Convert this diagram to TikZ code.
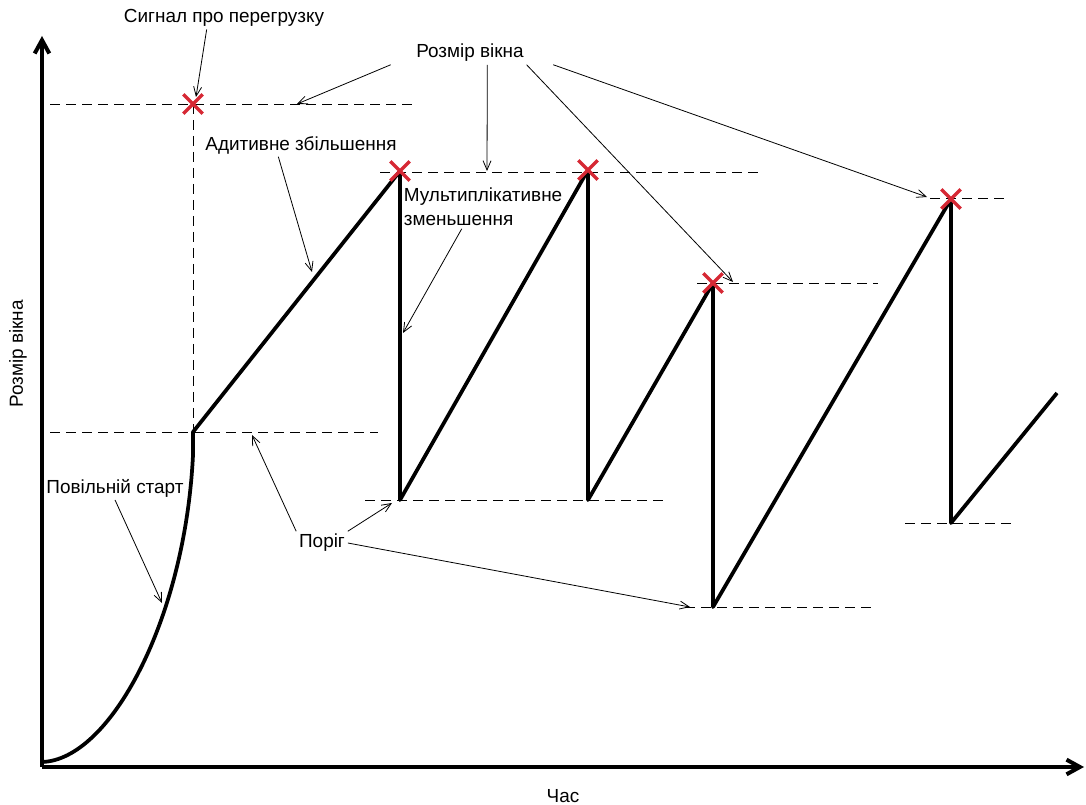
\documentclass[tikz,border=0pt]{standalone}
\usepackage{fontspec}
\setmainfont{Liberation Sans}
\usepackage{xcolor}
\usepackage{tikz}
\usetikzlibrary{arrows.meta,%
  shapes.misc%
}
\definecolor{lossred}{RGB}{214,40,52}

\begin{document}
\begin{tikzpicture}[x=0.75pt,y=-0.75pt,
    lbl/.style={font=\fontsize{14.2}{18}\selectfont, inner sep=2pt},
    pointer/.style={line width=0.6pt,-{Straight Barb[length=7pt,width=6pt]}},
    level/.style={line width=0.6pt, dash pattern=on 7.5pt off 4.5pt},
    cwnd/.style={line width=2.8pt, line join=round},
    loss/.style={cross out, draw=lossred, line width=2.6pt, minimum size=12pt, inner sep=0pt}]
  \useasboundingbox (0,0) rectangle (1086,805);

  % axes
  \coordinate (o) at (42,767);
  \draw [line width=3pt,-{Straight Barb[length=10pt,width=11pt]}] (o) -- (42,36);
  \draw [line width=3pt,-{Straight Barb[length=10pt,width=11pt]}] (o) -- (1084,767);

  % window levels
  \draw [level] (50,104) -- (415,104);
  \draw [level] (193,104) -- (193,432);
  \draw [level] (50,432) -- (378,432);
  \draw [level] (380,172) -- (762,172);
  \draw [level] (365,500) -- (668,500);
  \draw [level] (697,283) -- (878,283);
  \draw [level] (685,607) -- (876,607);
  \draw [level] (930,198) -- (1005,198);
  \draw [level] (905,523) -- (1015,523);

  % congestion window
  \coordinate (c0) at (42,762);
  \coordinate (t0) at (193,432);
  \coordinate (m1) at (400,171);
  \coordinate (b1) at (400,500);
  \coordinate (m2) at (588,170);
  \coordinate (b2) at (588,500);
  \coordinate (m3) at (713,283);
  \coordinate (b3) at (713,607);
  \coordinate (m4) at (951,199);
  \coordinate (b4) at (951,523);
  \coordinate (e) at (1057,393);
  \draw [cwnd] (c0) .. controls (110,760) and (185,620) .. (193,455) -- (t0)
    -- (m1) -- (b1) -- (m2) -- (b2) -- (m3) -- (b3) -- (m4) -- (b4) -- (e);

  \node [loss] (s0) at (193,104) {};
  \node [loss] (s1) at (m1) {};
  \node [loss] (s2) at (m2) {};
  \node [loss] (s3) at (m3) {};
  \node [loss] (s4) at (m4) {};

  % labels
  \node [lbl] (signal) at (224,18) {Сигнал про перегрузку};
  \node [lbl] (wnd) at (470,53) {Розмір вікна};
  \node [lbl] (addinc) at (301,145) {Адитивне збільшення};
  \node [lbl, align=left, anchor=north west] (muldec) at (401,185) {Мультиплікативне\\зменьшення};
  \node [lbl] (slow) at (115,488) {Повільній старт};
  \node [lbl] (thr) at (322,543) {Поріг};
  \node [lbl, inner sep=0pt, anchor=south] (time) at (563,803) {Час};
  \node [lbl, rotate=90] (ylbl) at (18,354) {Розмір вікна};

  % pointers
  \coordinate (p1) at (196,97);
  \coordinate (p2) at (297,104);
  \coordinate (p3) at (487,171);
  \coordinate (p4) at (733,282);
  \coordinate (p5) at (927,197);
  \coordinate (p6) at (312,272);
  \coordinate (p7) at (403,333);
  \coordinate (p8) at (162,603);
  \coordinate (p9) at (252,435);
  \coordinate (p10) at (392,503);
  \coordinate (p11) at (690,607);
  \draw [pointer] ([xshift=-13pt]signal.south) -- (p1);
  \draw [pointer] ([xshift=-17pt]wnd.south west) -- (p2);
  \draw [pointer] ([xshift=13pt]wnd.south) -- (p3);
  \draw [pointer] (wnd.south east) -- (p4);
  \draw [pointer] ([xshift=20pt]wnd.south east) -- (p5);
  \draw [pointer] ([xshift=-17pt]addinc.south) -- (p6);
  \draw [pointer] ([xshift=-16pt]muldec.south) -- (p7);
  \draw [pointer] (slow.south) -- (p8);
  \draw [pointer] (thr.north west) -- (p9);
  \draw [pointer] (thr.north east) -- (p10);
  \draw [pointer] (thr.east) -- (p11);
\end{tikzpicture}
\end{document}
